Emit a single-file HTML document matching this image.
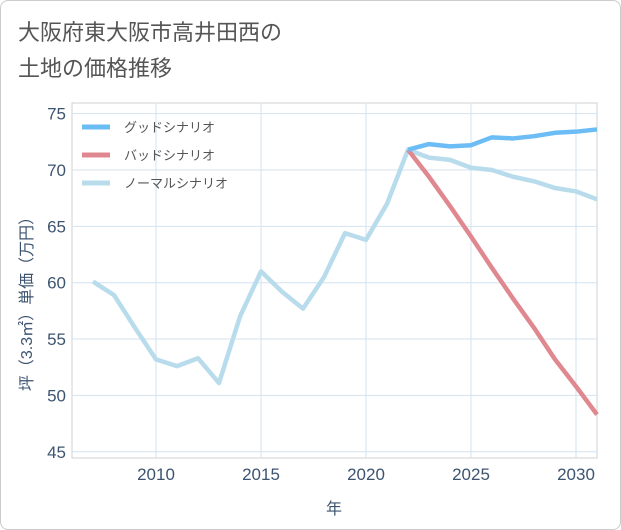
<!DOCTYPE html>
<html><head><meta charset="utf-8"><style>
body{margin:0;background:#fff;}
#card{position:absolute;left:0;top:0;width:619px;height:528px;border:1px solid #ccc;border-radius:8px;background:#fff;}
.t{font-family:"Liberation Sans","Noto Sans CJK JP",sans-serif;}
</style></head><body>
<div id="card"></div>
<svg id="chart" width="621" height="530" style="position:absolute;left:0;top:0">
<text class="t" x="18" y="40" font-size="22" fill="#555">大阪府東大阪市高井田西の</text>
<text class="t" x="18" y="76" font-size="22" fill="#555">土地の価格推移</text>
<g id="grid"></g><g id="axes"></g><g id="series"></g><g id="legend"></g>
<text class="t" x="334" y="514" font-size="16" fill="#3d5470" text-anchor="middle">年</text>
<text class="t" transform="translate(32,300) rotate(-90)" font-size="16" fill="#3d5470" text-anchor="middle">坪（3.3㎡）単価（万円）</text>
</svg>
<script>
const years=[2007,2008,2009,2010,2011,2012,2013,2014,2015,2016,2017,2018,2019,2020,2021,2022,2023,2024,2025,2026,2027,2028,2029,2030,2031];
const normalVals=[60.1,58.9,56.0,53.2,52.6,53.3,51.1,57.0,61.0,59.2,57.7,60.5,64.4,63.8,67.0,71.8,71.1,70.9,70.2,70.0,69.4,69.0,68.4,68.1,67.4];
const futureYears=[2022,2023,2024,2025,2026,2027,2028,2029,2030,2031];
const goodVals=[71.8,72.3,72.1,72.2,72.9,72.8,73.0,73.3,73.4,73.6];
const badVals=[71.8,69.4,66.8,64.1,61.3,58.6,56.0,53.2,50.8,48.3];
const yTicks=[45,50,55,60,65,70,75];
const xTicks=[2010,2015,2020,2025,2030];
const legendLabels=["グッドシナリオ","バッドシナリオ","ノーマルシナリオ"];
const L=72,R=597,T=103,B=458;
const X=v=>156+(v-2010)*21;
const Y=v=>170-(v-70)*11.27;
const NS="http://www.w3.org/2000/svg";
function mk(tag,p,parent){const e=document.createElementNS(NS,tag);for(const k in p)e.setAttribute(k,p[k]);document.getElementById(parent).appendChild(e);return e;}
let r=mk('rect',{x:L,y:T,width:R-L,height:B-T,fill:'none',stroke:'#d0d0d0'},'grid');


yTicks.forEach(v=>{
 let l=mk('line',{x1:L,x2:R,y1:Y(v),y2:Y(v),stroke:'#d3e3ef'},'grid');
 
 
 let t=mk('text',{x:L-6,y:Y(v)+6,'font-size':17,fill:'#3d5470','text-anchor':'end',class:'t'},'axes');t.textContent=v;
 
 
});
xTicks.forEach(v=>{
 let l=mk('line',{x1:X(v),x2:X(v),y1:T,y2:B,stroke:'#d3e3ef'},'grid');
 
 
 let t=mk('text',{x:X(v),y:B+22,'font-size':17,fill:'#3d5470','text-anchor':'middle',class:'t'},'axes');t.textContent=v;
 
 
});
function line(xs,vs,color,name){
 let p=mk('polyline',{points:xs.map((x,i)=>X(x)+','+Y(vs[i])).join(' '),fill:'none',stroke:color,'stroke-width':4.5,'stroke-linejoin':'round'},'series');
 
 
}
line(years,normalVals,'#b8dcec','normal-scenario-line');
line(futureYears,badVals,'#e08890','bad-scenario-line');
line(futureYears,goodVals,'#6cbdf5','good-scenario-line');
const lc=['#6cbdf5','#e08890','#b8dcec'];
legendLabels.forEach((s,i)=>{
 let y=127+i*28;
 let l=mk('line',{x1:82,x2:110,y1:y,y2:y,stroke:lc[i],'stroke-width':5},'legend');
 
 
 let t=mk('text',{x:124,y:y+5,'font-size':13,fill:'#555',class:'t'},'legend');t.textContent=s;
 
 
});
</script>
</body></html>
